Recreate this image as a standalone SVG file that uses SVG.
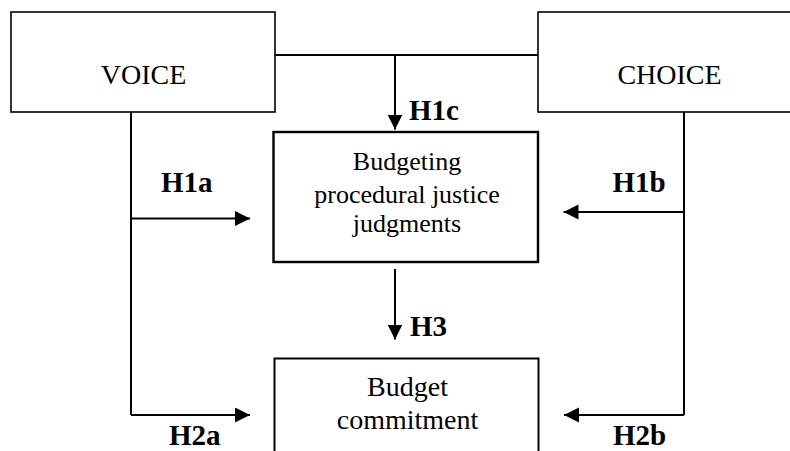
<svg xmlns="http://www.w3.org/2000/svg" width="790" height="451" viewBox="0 0 790 451">
  <defs>
    <marker id="arrow" markerUnits="userSpaceOnUse" markerWidth="16" markerHeight="16" refX="15" refY="7.5" orient="auto">
      <path d="M0,0 L15,7.5 L0,15 Z" fill="#000"/>
    </marker>
  </defs>
  <style>
    .box { fill: #fff; stroke: #000; stroke-width: 2; }
    .conn { fill: none; stroke: #000; stroke-width: 2; }
    .arr { marker-end: url(#arrow); }
    .t { fill: #000; text-anchor: middle; }
    .big { font-size: 28px; }
    .mid { font-size: 26px; }
    .lbl { font-size: 29px; font-weight: bold; fill: #000; }
  </style>
  <rect width="790" height="451" fill="#fff"/>

  <g id="connectors">
    <path class="conn" d="M275,55 H538"/>
    <path class="conn arr" d="M395,55 V129.5"/>
    <path class="conn" d="M131,112 V415"/>
    <path class="conn arr" d="M131,218.5 H250"/>
    <path class="conn arr" d="M131,415 H250"/>
    <path class="conn" d="M684,112 V415"/>
    <path class="conn arr" d="M684,212 H563.5"/>
    <path class="conn arr" d="M684,415 H564"/>
    <path class="conn arr" d="M395,269 V339.5"/>
  </g>

  <g font-family="'Liberation Serif', 'Times New Roman', 'DejaVu Serif', serif">
    <g id="voice">
      <rect class="box" x="11" y="12" width="264" height="100" style="stroke-width:1.6"/>
      <text class="t big" x="143.5" y="83.5">VOICE</text>
    </g>

    <g id="choice">
      <rect class="box" x="538" y="12" width="263" height="100" style="stroke-width:1.6"/>
      <text class="t big" x="669.5" y="83.5">CHOICE</text>
    </g>

    <g id="justice">
      <rect class="box" x="273.5" y="132" width="264.5" height="130" style="stroke-width:2.4"/>
      <text class="t mid" x="407" y="170">Budgeting</text>
      <text class="t mid" x="407" y="203">procedural justice</text>
      <text class="t mid" x="407" y="231.5">judgments</text>
    </g>

    <g id="commitment">
      <rect class="box" x="274.5" y="358.5" width="264" height="200" style="stroke-width:2"/>
      <text class="t big" x="407.5" y="396">Budget</text>
      <text class="t big" x="407.5" y="429">commitment</text>
    </g>

    <g id="labels">
      <text class="lbl" x="409" y="120">H1c</text>
      <text class="lbl" x="161" y="192">H1a</text>
      <text class="lbl" x="612.5" y="192">H1b</text>
      <text class="lbl" x="410" y="336">H3</text>
      <text class="lbl" x="169" y="445">H2a</text>
      <text class="lbl" x="613" y="445">H2b</text>
    </g>
  </g>
</svg>
